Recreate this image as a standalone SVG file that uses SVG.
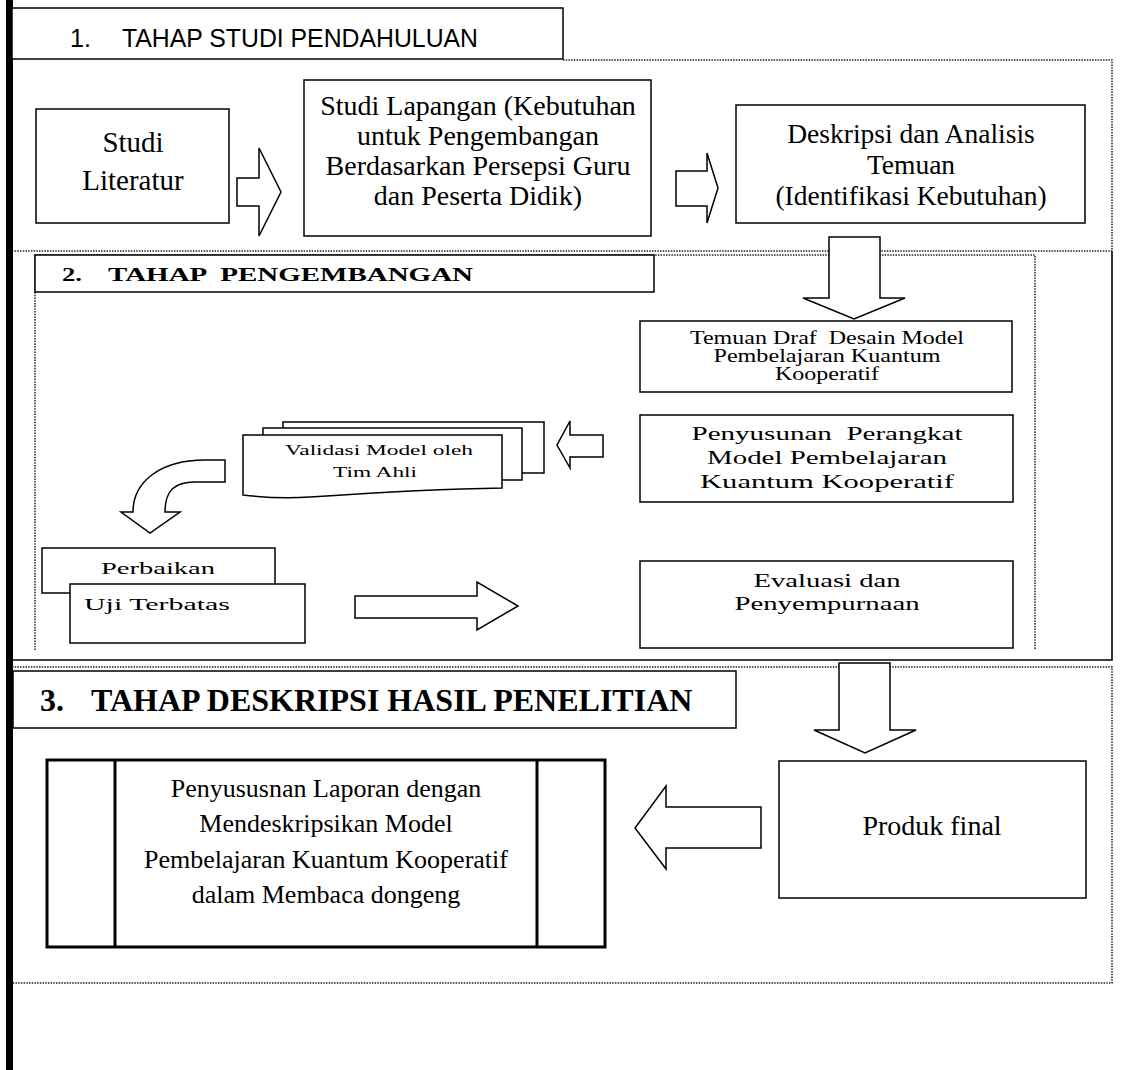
<svg xmlns="http://www.w3.org/2000/svg" width="1132" height="1070" viewBox="0 0 1132 1070">
<style>
.box{fill:#fff;stroke:#000;stroke-width:1.5}
.arr{fill:#fff;stroke:#000;stroke-width:1.5;stroke-linejoin:miter}
.dot{fill:none;stroke:#222;stroke-width:1.5;stroke-dasharray:1.5 1.2}
.sol{fill:none;stroke:#000;stroke-width:1.6}
.s{font-family:"Liberation Serif","Times New Roman",serif;fill:#000;text-anchor:middle}
.pre{white-space:pre}
</style>
<rect x="0" y="0" width="1132" height="1070" fill="#fff"/>
<rect x="6" y="0" width="7" height="1070" fill="#000"/>
<g id="frames">
<path class="dot" d="M563,60 H1112 V251 M12,251 H1112"/>
<path class="sol" d="M1112,251 V660 H12"/>
<path class="dot" d="M35,650 V255 H1035 V650"/>
<path class="dot" d="M12,667 H1112 V983 H12"/>
</g>
<g id="connectors">
<path class="arr" d="M237,178 L259,178 L259,148 L281,192 L259,236 L259,206 L237,206 Z"/>
<path class="arr" d="M676,171 L707,171 L707,153 L718,188 L707,223 L707,206 L676,206 Z"/>
<path class="arr" d="M829,237 L880,237 L880,298 L905,298 L854,319 L803,298 L829,298 Z"/>
<path class="arr" d="M603,435 L570,435 L570,421 L557,445 L570,468 L570,457 L603,457 Z"/>
<path class="arr" d="M225,460 L205,460 C160,460 133,482 133,512 L121,512 L150,533 L180,512 L165,512 C165,490 175,482 195,482 L225,482 Z"/>
<path class="arr" d="M355,596 L477,596 L477,582 L518,606 L477,630 L477,618 L355,618 Z"/>
<path class="arr" d="M839,663 L890,663 L890,730 L916,730 L865,753 L814,730 L839,730 Z"/>
<path class="arr" d="M761,807 L666,807 L666,786 L635,828 L666,869 L666,848 L761,848 Z"/>
</g>
<g id="header1">
<rect class="box" x="12" y="8" width="551" height="51"/>
<text x="70" y="47" font-family="'Liberation Sans',Arial,sans-serif" font-size="25">1.</text>
<text x="122" y="47" font-family="'Liberation Sans',Arial,sans-serif" font-size="25" textLength="356" lengthAdjust="spacingAndGlyphs">TAHAP STUDI PENDAHULUAN</text>
</g>
<g id="studi-literatur">
<rect class="box" x="36" y="109" width="193" height="114"/>
<text class="s" x="133" y="152" font-size="29">Studi</text>
<text class="s" x="133" y="190" font-size="29">Literatur</text>
</g>
<g id="studi-lapangan">
<rect class="box" x="304" y="80" width="347" height="156"/>
<text class="s" x="478" y="115" font-size="28">Studi Lapangan (Kebutuhan</text>
<text class="s" x="478" y="145" font-size="28">untuk Pengembangan</text>
<text class="s" x="478" y="175" font-size="28">Berdasarkan Persepsi Guru</text>
<text class="s" x="478" y="205" font-size="28">dan Peserta Didik)</text>
</g>
<g id="deskripsi">
<rect class="box" x="736" y="105" width="349" height="118"/>
<text class="s" x="911" y="143" font-size="27.5">Deskripsi dan Analisis</text>
<text class="s" x="911" y="174" font-size="27.5">Temuan</text>
<text class="s" x="911" y="205" font-size="27.5">(Identifikasi Kebutuhan)</text>
</g>
<g id="header2">
<rect class="box" x="35" y="255" width="619" height="37"/>
<text x="62" y="281" font-family="'Liberation Serif','Times New Roman',serif" font-weight="bold" font-size="19.5" textLength="20" lengthAdjust="spacingAndGlyphs">2.</text>
<text class="pre" x="108" y="281" font-family="'Liberation Serif','Times New Roman',serif" font-weight="bold" font-size="19.5" textLength="365" lengthAdjust="spacingAndGlyphs">TAHAP  PENGEMBANGAN</text>
</g>
<g id="temuan">
<rect class="box" x="640" y="321" width="372" height="71"/>
<text class="s pre" x="827" y="344" font-size="18.5" textLength="274" lengthAdjust="spacingAndGlyphs">Temuan Draf  Desain Model</text>
<text class="s" x="827" y="362" font-size="18.5" textLength="227" lengthAdjust="spacingAndGlyphs">Pembelajaran Kuantum</text>
<text class="s" x="827" y="380" font-size="18.5" textLength="104" lengthAdjust="spacingAndGlyphs">Kooperatif</text>
</g>
<g id="penyusunan">
<rect class="box" x="640" y="415" width="373" height="87"/>
<text class="s pre" x="827" y="440" font-size="18" textLength="271" lengthAdjust="spacingAndGlyphs">Penyusunan  Perangkat</text>
<text class="s" x="827" y="464" font-size="18" textLength="240" lengthAdjust="spacingAndGlyphs">Model Pembelajaran</text>
<text class="s" x="827" y="488" font-size="18" textLength="254" lengthAdjust="spacingAndGlyphs">Kuantum Kooperatif</text>
</g>
<g id="validasi">
<rect class="box" x="283" y="422" width="261" height="51"/>
<rect class="box" x="263" y="428" width="259" height="52"/>
<path class="box" d="M243,435 L502,435 L502,488 C440,489 370,493 310,497 C280,499 260,497 243,495 Z"/>
<text class="s" x="379" y="455" font-size="15" textLength="188" lengthAdjust="spacingAndGlyphs">Validasi Model oleh</text>
<text class="s" x="375" y="477" font-size="15" textLength="84" lengthAdjust="spacingAndGlyphs">Tim Ahli</text>
</g>
<g id="perbaikan">
<rect class="box" x="42" y="548" width="233" height="45"/>
<text x="101" y="574" font-family="'Liberation Serif','Times New Roman',serif" font-size="17.5" textLength="114" lengthAdjust="spacingAndGlyphs">Perbaikan</text>
</g>
<g id="uji-terbatas">
<rect class="box" x="70" y="584" width="235" height="59"/>
<text x="84" y="610" font-family="'Liberation Serif','Times New Roman',serif" font-size="17.5" textLength="146" lengthAdjust="spacingAndGlyphs">Uji Terbatas</text>
</g>
<g id="evaluasi">
<rect class="box" x="640" y="561" width="373" height="87"/>
<text class="s" x="827" y="587" font-size="18" textLength="147" lengthAdjust="spacingAndGlyphs">Evaluasi dan</text>
<text class="s" x="827" y="610" font-size="18" textLength="185" lengthAdjust="spacingAndGlyphs">Penyempurnaan</text>
</g>
<g id="header3">
<rect class="box" x="13" y="671" width="723" height="57"/>
<text x="40" y="711" font-family="'Liberation Serif','Times New Roman',serif" font-weight="bold" font-size="32">3.</text>
<text x="91" y="711" font-family="'Liberation Serif','Times New Roman',serif" font-weight="bold" font-size="32">TAHAP DESKRIPSI HASIL PENELITIAN</text>
</g>
<g id="penyususnan">
<rect x="47" y="760" width="558" height="187" fill="#fff" stroke="#000" stroke-width="3"/>
<line x1="115" y1="760" x2="115" y2="947" stroke="#000" stroke-width="3"/>
<line x1="537" y1="760" x2="537" y2="947" stroke="#000" stroke-width="3"/>
<text class="s" x="326" y="797" font-size="26">Penyususnan Laporan dengan</text>
<text class="s" x="326" y="832" font-size="26">Mendeskripsikan Model</text>
<text class="s" x="326" y="868" font-size="26">Pembelajaran Kuantum Kooperatif</text>
<text class="s" x="326" y="903" font-size="26">dalam Membaca dongeng</text>
</g>
<g id="produk-final">
<rect class="box" x="779" y="761" width="307" height="137"/>
<text class="s" x="932" y="835" font-size="28">Produk final</text>
</g>
</svg>
